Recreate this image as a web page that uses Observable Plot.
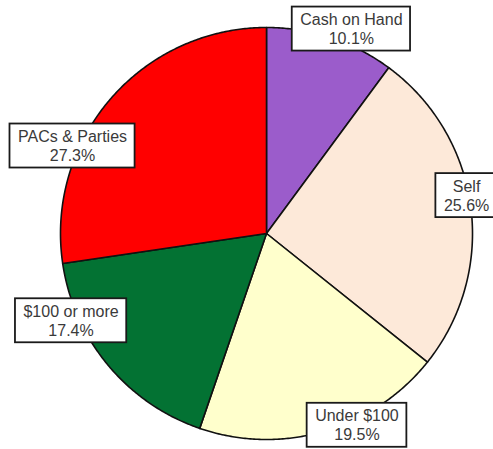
<!DOCTYPE html>
<html><head><meta charset="utf-8">
<script src="https://cdn.jsdelivr.net/npm/d3@7"></script>
<script src="https://cdn.jsdelivr.net/npm/@observablehq/plot@0.6"></script>
<style>body{margin:0;background:#fff}</style>
</head><body><div id="chart"></div>
<script>
// ---- data ----
const categories = ["Cash on Hand", "Self", "Under $100", "$100 or more", "PACs & Parties"];
const shares = [10.1, 25.6, 19.5, 17.4, 27.3];
const percentLabels = ["10.1%", "25.6%", "19.5%", "17.4%", "27.3%"];

// ---- styles / layout ----
const sliceColors = ["#9B5CCB", "#FDE9D9", "#FFFFCC", "#037233", "#FF0000"];
const labelAngleShift = [4.3, -3.4, -9.1, 15.8, -16.4]; // degrees relative to slice middle
const labelRadius = [1.077, 0.989, 1.027, 1.038, 1.034];

const total = d3.sum(shares);
const rad = Math.PI / 180;
let cum = 0;
const slices = categories.map((c, i) => {
  const a0 = cum / total * 360;
  cum += shares[i];
  const a1 = cum / total * 360;
  return {category: c, a0, a1, mid: (a0 + a1) / 2, i};
});

// polygon points computed from the slice angles
const piePoints = [];
for (const s of slices) {
  piePoints.push({category: s.category, x: 0, y: 0});
  const n = Math.max(2, Math.ceil((s.a1 - s.a0) / 0.5));
  for (let k = 0; k <= n; k++) {
    const a = (s.a0 + (s.a1 - s.a0) * k / n) * rad;
    piePoints.push({category: s.category, x: Math.sin(a), y: Math.cos(a)});
  }
}

const labels = slices.map(s => {
  const a = (s.mid + labelAngleShift[s.i]) * rad;
  const r = labelRadius[s.i];
  return {text: categories[s.i] + "\n" + percentLabels[s.i], x: r * Math.sin(a), y: r * Math.cos(a)};
});

const chart = Plot.plot({
  width: 493,
  height: 449,
  marginLeft: 60,
  marginRight: 21,
  marginTop: 27,
  marginBottom: 10,
  x: {domain: [-1, 1], axis: null},
  y: {domain: [-1, 1], axis: null},
  color: {domain: categories, range: sliceColors},
  style: {fontFamily: "'Liberation Sans', Arial, sans-serif", background: "#fff"},
  marks: [
    Plot.line(piePoints, {x: "x", y: "y", z: "category", fill: "category", stroke: "#111", strokeWidth: 1.6, curve: "linear-closed", strokeLinejoin: "round"}),
    Plot.text(labels, {x: "x", y: "y", text: "text", fontSize: 16, lineHeight: 1.18, fill: "#3a3a3a", lineAnchor: "middle"})
  ]
});

document.getElementById("chart").appendChild(chart);

// draw white boxes behind label texts
const textGroup = chart.querySelector('g[aria-label="text"]');
const boxG = document.createElementNS("http://www.w3.org/2000/svg", "g");
textGroup.parentNode.insertBefore(boxG, textGroup);
textGroup.querySelectorAll("text").forEach(t => {
  const b = t.getBBox();
  const m = t.getCTM();
  const gm = textGroup.getCTM();
  const cx = b.x + b.width / 2, cy = b.y + b.height / 2;
  const pt = chart.createSVGPoint(); pt.x = cx; pt.y = cy;
  const p = pt.matrixTransform(m).matrixTransform(gm.inverse());
  const w = b.width + 16, h = 44;
  const r = document.createElementNS("http://www.w3.org/2000/svg", "rect");
  r.setAttribute("x", p.x - w / 2);
  r.setAttribute("y", p.y - h / 2);
  r.setAttribute("width", w);
  r.setAttribute("height", h);
  r.setAttribute("fill", "#fff");
  r.setAttribute("stroke", "#1a1a1a");
  r.setAttribute("stroke-width", 1.8);
  boxG.appendChild(r);
});
</script>
</body></html>
